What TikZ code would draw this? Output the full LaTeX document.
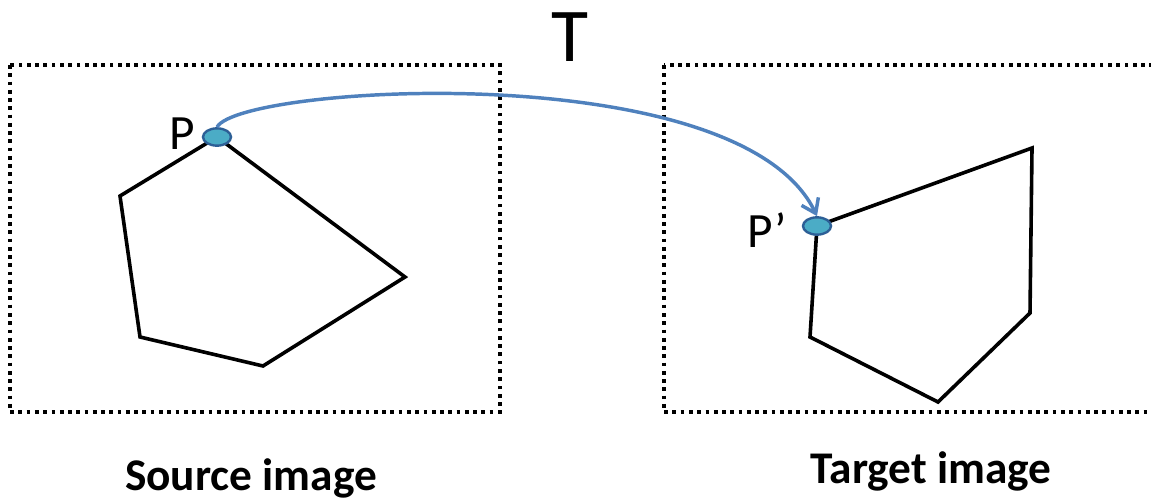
\documentclass[tikz,border=0pt]{standalone}
\usepackage{fontspec}
\setmainfont{Carlito}
\usetikzlibrary{arrows.meta, positioning, shapes.geometric}

\definecolor{ptfill}{RGB}{75,172,198}
\definecolor{ptdraw}{RGB}{45,95,150}
\definecolor{mapblue}{RGB}{79,129,189}

\begin{document}
\begin{tikzpicture}[x=0.75pt, y=-0.75pt,
                frame box/.style={draw, line width=2.8pt, dash pattern=on 2.8pt off 3.4pt},
                shape line/.style={draw, line width=2.7pt, line join=miter},
                point/.style={ellipse, draw=ptdraw, fill=ptfill, line width=1.8pt, minimum width=21pt, minimum height=13pt, inner sep=0pt},
                map arrow/.style={draw=mapblue, line width=2.6pt, -{Straight Barb[length=10pt, width=14pt, line width=2.6pt]}},
                caption/.style={font=\fontsize{34}{38}\selectfont\bfseries, anchor=base}]

                \useasboundingbox (0,0) rectangle (1151,502);

                % Image frames
                \draw[frame box] (10,65) rectangle (500,412);
                \draw[frame box] (664,65) rectangle (1165,412);

                % Source polygon
                \coordinate (s1) at (217,137);
                \coordinate (s2) at (120,196);
                \coordinate (s3) at (140,337);
                \coordinate (s4) at (263,366);
                \coordinate (s5) at (405,277);
                \draw[shape line] (s1) -- (s2) -- (s3) -- (s4) -- (s5) -- cycle;

                % Target polygon
                \coordinate (t1) at (817,226);
                \coordinate (t2) at (1032,148);
                \coordinate (t3) at (1030,313);
                \coordinate (t4) at (938,402);
                \coordinate (t5) at (810,337);
                \draw[shape line] (t1) -- (t2) -- (t3) -- (t4) -- (t5) -- cycle;

                % Points
                \node[point] (psrc) at (s1) {};
                \node[point] (ptgt) at (t1) {};
                \node[font=\fontsize{37}{40}\selectfont] (lsrc) at (182,134) {P};
                \node[font=\fontsize{37}{40}\selectfont] (ltgt) at (767,230) {P’};

                % Transformation
                \draw[map arrow] (psrc.north) .. controls (240,85) and (740,55) .. (ptgt.north);
                \node[font=\fontsize{57}{60}\selectfont] (tmap) at (570,37) {T};

                % Captions
                \node[caption] (csrc) at (251,490) {Source image};
                \node[caption] (ctgt) at (931,483) {Target image};
\end{tikzpicture}
\end{document}
